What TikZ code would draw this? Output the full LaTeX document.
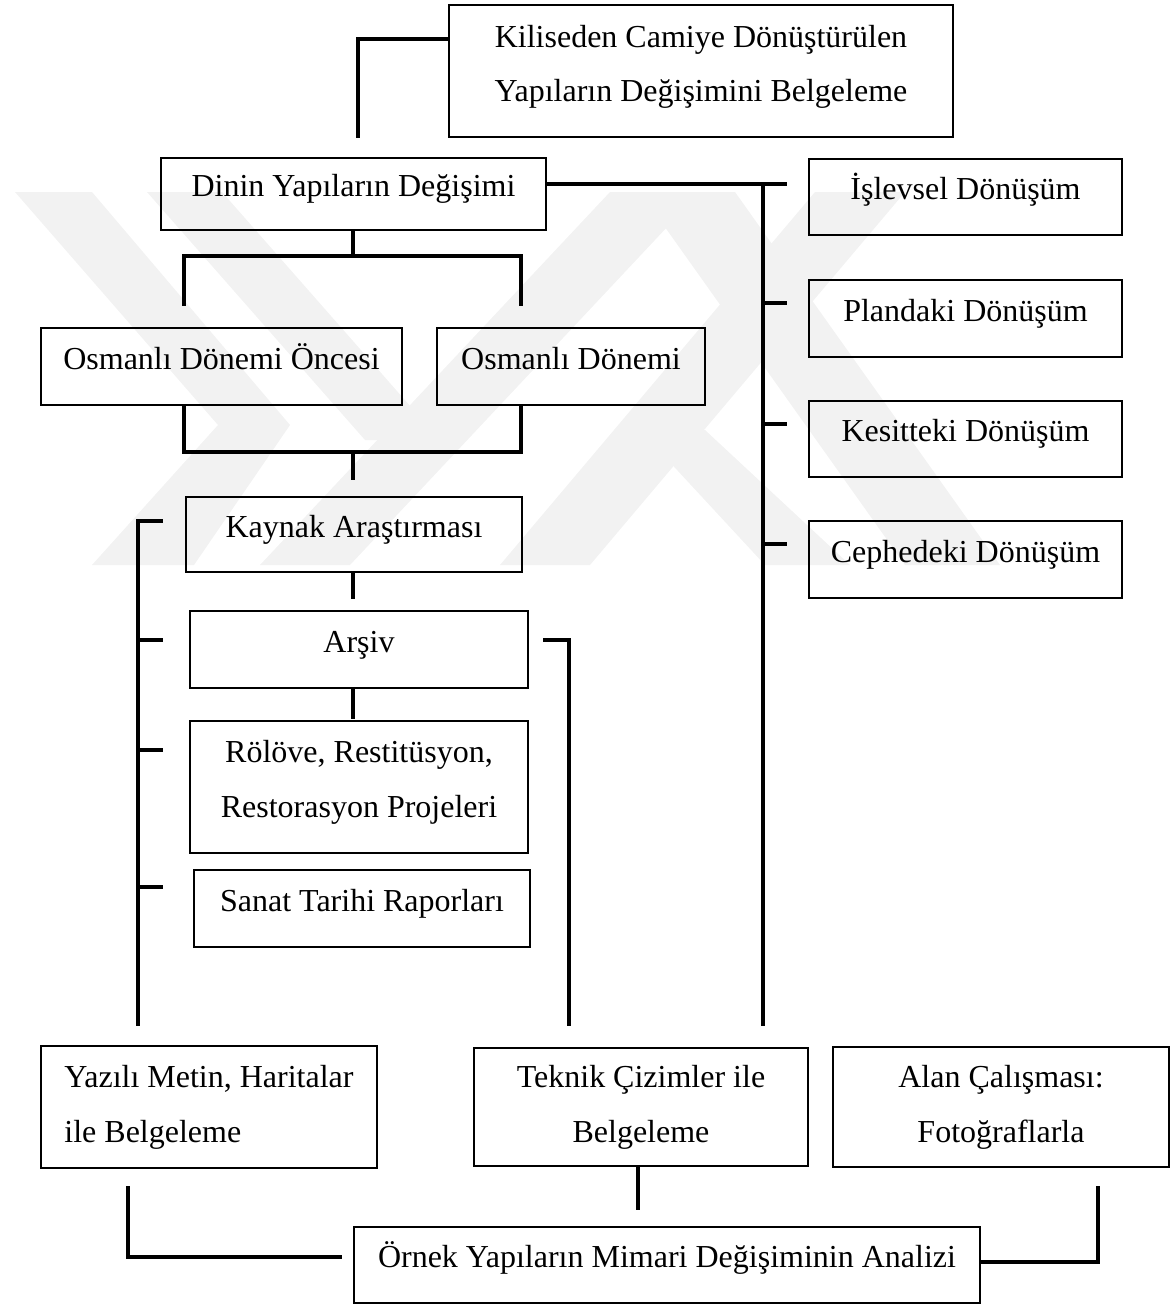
\documentclass[tikz,border=0pt]{standalone}
\usepackage{fontspec}
\setmainfont{Liberation Serif}
\tikzset{
  box/.style={draw, line width=0.8pt, inner sep=0pt,
    font=\fontsize{12}{20.6}\selectfont, text height=10pt, text depth=8pt, align=center},
  conn/.style={line width=1.15pt, line cap=rect},
  wm/.style={fill=black!5, draw=none}
}
\newcommand{\mybx}[7][]{\node[box,minimum width={(#5-#3)*0.375pt},minimum height={(#6-#4)*0.375pt},#1] (#2) at ({(#3+#5)/2},{(#4+#6)/2}) {#7};}
\begin{document}
\begin{tikzpicture}[x=0.375pt,y=-0.375pt]
\useasboundingbox (0,0) rectangle (1171,1306);
% watermark
\fill[wm] (15,192) -- (92,192) -- (290,425) -- (194,565) -- (92,565) -- (218,425) -- cycle;
\fill[wm] (147,192) -- (222,192) -- (440,440) -- (365,440) -- cycle;
\fill[wm] (260,565) -- (350,565) -- (700,192) -- (610,192) -- cycle;
\fill[wm] (500,565) -- (590,565) -- (905,192) -- (815,192) -- cycle;
\fill[wm] (640,430) -- (705,430) -- (850,565) -- (765,565) -- cycle;
\fill[wm] (640,192) -- (735,192) -- (1000,565) -- (905,565) -- cycle;
% boxes
\mybx[text height=25.2pt,text depth=2pt]{top}{449}{5}{953}{137}{Kiliseden Camiye Dönüştürülen\\Yapıların Değişimini Belgeleme}
\mybx{dinin}{161}{158}{546}{230}{Dinin Yapıların Değişimi}
\mybx{isl}{809}{159}{1122}{235}{İşlevsel Dönüşüm}
\mybx{plan}{809}{280}{1122}{357}{Plandaki Dönüşüm}
\mybx{kes}{809}{401}{1122}{477}{Kesitteki Dönüşüm}
\mybx{cep}{809}{521}{1122}{598}{Cephedeki Dönüşüm}
\mybx{oso}{41}{328}{402}{405}{Osmanlı Dönemi Öncesi}
\mybx{osd}{437}{328}{705}{405}{Osmanlı Dönemi}
\mybx{kay}{186}{497}{522}{572}{Kaynak Araştırması}
\mybx{ars}{190}{611}{528}{688}{Arşiv}
\mybx[text height=24.5pt,text depth=2pt]{rol}{190}{721}{528}{853}{Rölöve, Restitüsyon,\\Restorasyon Projeleri}
\mybx{san}{194}{870}{530}{947}{Sanat Tarihi Raporları}
\mybx[text height=28.25pt,text depth=2pt,align=left]{yaz}{41}{1046}{377}{1168}{Yazılı Metin, Haritalar\\ile Belgeleme}
\mybx[text height=28.25pt,text depth=2pt]{tek}{474}{1048}{808}{1166}{Teknik Çizimler ile\\Belgeleme}
\mybx[text height=28.25pt,text depth=2pt]{alan}{833}{1047}{1169}{1167}{Alan Çalışması:\\Fotoğraflarla}
\mybx{ornek}{354}{1227}{980}{1303}{Örnek Yapıların Mimari Değişiminin Analizi}
% coordinates
\coordinate (t1) at (358,39);   \coordinate (t2) at (358,136);
\coordinate (r0) at (763,184);  \coordinate (r0e) at (785,184); \coordinate (rend) at (763,1024);
\coordinate (rp) at (763,303);  \coordinate (rpe) at (785,303);
\coordinate (rk) at (763,424);  \coordinate (rke) at (785,424);
\coordinate (rc) at (763,544);  \coordinate (rce) at (785,544);
\coordinate (d1) at (353,256);  \coordinate (dl) at (184,256); \coordinate (dr) at (521,256);
\coordinate (dle) at (184,304); \coordinate (dre) at (521,304);
\coordinate (ol) at (184,452);  \coordinate (or) at (521,452); \coordinate (om) at (353,452);
\coordinate (ome) at (353,478);
\coordinate (ke) at (353,597);
\coordinate (ae) at (353,717);
\coordinate (lb) at (138,521);  \coordinate (lbe) at (138,1024);
\coordinate (lt1) at (161,521); \coordinate (lt2s) at (138,640); \coordinate (lt2) at (161,640);
\coordinate (lt3s) at (138,750); \coordinate (lt3) at (161,750);
\coordinate (lt4s) at (138,887); \coordinate (lt4) at (161,887);
\coordinate (rb0) at (545,640); \coordinate (rb1) at (569,640); \coordinate (rbe) at (569,1024);
\coordinate (bl0) at (128,1188); \coordinate (bl1) at (128,1257); \coordinate (bl2) at (340,1257);
\coordinate (tk) at (638,1208);
\coordinate (br0) at (1098,1188); \coordinate (br1) at (1098,1262);
% connectors
\draw[conn] (top.west |- t1) -- (t1) -- (t2);
\draw[conn] (dinin.east |- r0) -- (r0e);
\draw[conn] (r0) -- (rend);
\draw[conn] (rp) -- (rpe);
\draw[conn] (rk) -- (rke);
\draw[conn] (rc) -- (rce);
\draw[conn] (dinin.south -| d1) -- (d1);
\draw[conn] (dle) -- (dl) -- (dr) -- (dre);
\draw[conn] (oso.south -| ol) -- (ol) -- (or) -- (osd.south -| or);
\draw[conn] (om) -- (ome);
\draw[conn] (kay.south -| ke) -- (ke);
\draw[conn] (ars.south -| ae) -- (ae);
\draw[conn] (lt1) -- (lb) -- (lbe);
\draw[conn] (lt2s) -- (lt2);
\draw[conn] (lt3s) -- (lt3);
\draw[conn] (lt4s) -- (lt4);
\draw[conn] (rb0) -- (rb1) -- (rbe);
\draw[conn] (bl0) -- (bl1) -- (bl2);
\draw[conn] (tek.south -| tk) -- (tk);
\draw[conn] (br0) -- (br1) -- (ornek.east |- br1);
\end{tikzpicture}
\end{document}
